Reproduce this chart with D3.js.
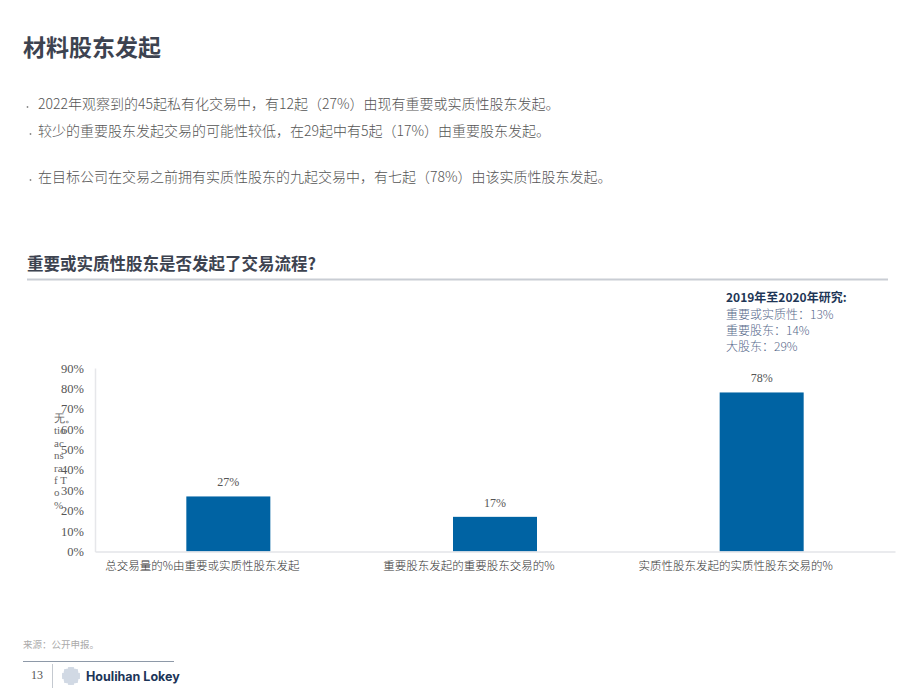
<!DOCTYPE html>
<html>
<head>
  <meta charset="UTF-8">
  <style>
    body { margin: 0; background: #fff; }
    svg text { font-family: "Noto Sans CJK SC", "Noto Sans", sans-serif; }
  </style>
</head>
<body>
<script src="https://d3js.org/d3.v7.min.js"></script>
<div id="my_dataviz"></div>
<script>

// chart data
var categories = ["总交易量的%由重要或实质性股东发起", "重要股东发起的重要股东交易的%", "实质性股东发起的实质性股东交易的%"];
var values = [27, 17, 78];
var yTicks = [0, 10, 20, 30, 40, 50, 60, 70, 80, 90];

var bullets = [
  "2022年观察到的45起私有化交易中，有12起（27%）由现有重要或实质性股东发起。",
  "较少的重要股东发起交易的可能性较低，在29起中有5起（17%）由重要股东发起。",
  "在目标公司在交易之前拥有实质性股东的九起交易中，有七起（78%）由该实质性股东发起。"
];
var noteTitle = "2019年至2020年研究:";
var noteLines = ["重要或实质性：13%", "重要股东：14%", "大股东：29%"];
var axisTitleBits = ["无。", "tio", "ac", "ns", "ra", "f T", "o", "%"];

var svg = d3.select("#my_dataviz")
  .append("svg")
    .attr("width", 920)
    .attr("height", 690);

// page title
svg.append("text")
  .attr("x", 23).attr("y", 56)
  .text("材料股东发起")
  .style("font-size", "23px")
  .style("font-weight", "bold")
  .attr("fill", "#3d4350");

// bullet points
var bulletY = [104, 131, 177];
bullets.forEach(function(b, i) {
  svg.append("circle")
    .attr("cx", i == 0 ? 27.5 : 30.5).attr("cy", bulletY[i] + 3)
    .attr("r", 0.9)
    .attr("fill", "#888");
  svg.append("text")
    .attr("x", 38).attr("y", bulletY[i] + 5)
    .text(b)
    .style("font-size", "14px")
    .style("font-weight", "300")
    .attr("fill", "#555");
});

// chart heading
svg.append("text")
  .attr("x", 27).attr("y", 270)
  .text("重要或实质性股东是否发起了交易流程?")
  .style("font-size", "16.5px")
  .style("font-weight", "bold")
  .attr("fill", "#3d4350");
svg.append("line")
  .attr("x1", 27).attr("x2", 888)
  .attr("y1", 279.5).attr("y2", 279.5)
  .style("stroke", "#c9cdd4")
  .style("stroke-width", 2);

// side note
svg.append("text")
  .attr("x", 726).attr("y", 302)
  .text(noteTitle)
  .style("font-size", "12px")
  .style("font-weight", "bold")
  .attr("fill", "#1e3656");
noteLines.forEach(function(t, i) {
  svg.append("text")
    .attr("x", 726).attr("y", 319 + i * 16)
    .text(t)
    .style("font-size", "12px")
    .style("font-weight", "300")
    .attr("fill", "#56688a");
});

// scales
var x = d3.scaleBand()
  .domain(categories)
  .range([95, 895])
  .paddingInner(0.685)
  .paddingOuter(0.3425);

var y = d3.scaleLinear()
  .domain([0, 90])
  .range([551.5, 368]);

// y axis
var yAxis = svg.append("g")
  .attr("transform", "translate(95,0)")
  .call(d3.axisLeft(y).tickValues(yTicks).tickFormat(function(d) { return d + "%"; }).tickSize(0).tickPadding(11));
yAxis.select(".domain").style("stroke", "#e6e7ea").style("stroke-width", 1.5);
yAxis.selectAll("text")
  .style("font-family", "'Liberation Serif', serif")
  .style("font-size", "12.5px")
  .attr("fill", "#555");

// garbled axis title
axisTitleBits.forEach(function(t, i) {
  svg.append("text")
    .attr("x", 54).attr("y", 422 + i * 12.4)
    .text(t)
    .style("font-family", "'Liberation Serif', serif")
    .style("font-size", "11px")
    .attr("fill", "#666");
});

// bars
svg.append("g")
  .selectAll("rect")
  .data(values)
  .enter()
  .append("rect")
    .attr("x", function(d, i) { return x(categories[i]); })
    .attr("y", function(d) { return y(d); })
    .attr("width", x.bandwidth())
    .attr("height", function(d) { return y(0) - y(d); })
    .attr("fill", "#0063a3");

// value labels
svg.append("g")
  .selectAll("text")
  .data(values)
  .enter()
  .append("text")
    .attr("x", function(d, i) { return x(categories[i]) + x.bandwidth() / 2; })
    .attr("y", function(d) { return y(d) - 10; })
    .attr("text-anchor", "middle")
    .text(function(d) { return d + "%"; })
    .style("font-family", "'Liberation Serif', serif")
    .style("font-size", "12px")
    .attr("fill", "#555");

// x axis (labels sit a bit left of the bar centre, as in the original)
var xAxis = svg.append("g")
  .attr("transform", "translate(0," + y(0) + ")")
  .call(d3.axisBottom(x).tickSize(0).tickPadding(10));
xAxis.select(".domain").style("stroke", "#e3e4e8").style("stroke-width", 1.5);
xAxis.selectAll("text")
  .attr("dx", -26)
  .style("font-family", "'Noto Sans CJK SC', sans-serif")
  .style("font-size", "11.5px")
  .style("font-weight", "300")
  .attr("fill", "#333");

// footer
svg.append("text")
  .attr("x", 23).attr("y", 648)
  .text("来源：公开申报。")
  .style("font-size", "9.5px")
  .attr("fill", "#aaa");
svg.append("line")
  .attr("x1", 23).attr("x2", 174)
  .attr("y1", 661.5).attr("y2", 661.5)
  .style("stroke", "#8e99a8")
  .style("stroke-width", 1);
svg.append("text")
  .attr("x", 31).attr("y", 679)
  .text("13")
  .style("font-family", "'Liberation Serif', serif")
  .style("font-size", "12px")
  .attr("fill", "#555");
svg.append("line")
  .attr("x1", 52.5).attr("x2", 52.5)
  .attr("y1", 664).attr("y2", 688)
  .style("stroke", "#c4c9d0");

// logo globe
var logo = svg.append("g").attr("transform", "translate(71,676)");
logo.append("circle").attr("r", 9).attr("fill", "#eef1f6");
for (var gx = -8; gx <= 8; gx += 2) {
  for (var gy = -8; gy <= 8; gy += 2) {
    if (gx * gx + gy * gy <= 72) {
      logo.append("circle")
        .attr("cx", gx).attr("cy", gy)
        .attr("r", 0.7)
        .attr("fill", "#9fb0c6");
    }
  }
}
svg.append("text")
  .attr("x", 86).attr("y", 681)
  .text("Houlihan Lokey")
  .style("font-family", "Inter, 'Open Sans', sans-serif")
  .style("font-size", "12.5px")
  .style("font-weight", "bold")
  .attr("fill", "#1c3558");

</script>
</body>
</html>
